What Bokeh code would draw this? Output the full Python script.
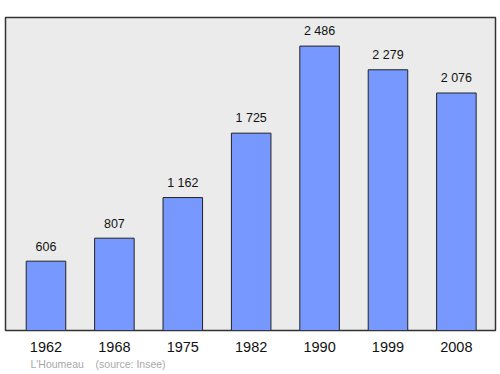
from bokeh.plotting import figure
from bokeh.models import ColumnDataSource, Range1d, FixedTicker, Title
from bokeh.core.properties import value
from bokeh.embed import file_html
from bokeh.resources import INLINE

years = ["1962", "1968", "1975", "1982", "1990", "1999", "2008"]
population = [606, 807, 1162, 1725, 2486, 2279, 2076]
labels = ["606", "807", "1 162", "1 725", "2 486", "2 279", "2 076"]

xs = list(range(len(years)))
src = ColumnDataSource(dict(x=xs, top=population, lab=labels))

FONT = "Liberation Sans"

p = figure(width=500, height=374, output_backend="svg", toolbar_location=None,
           x_range=Range1d(-0.592, 6.572), y_range=Range1d(0, 2736),
           min_border_left=5, min_border_right=5, min_border_top=17, min_border_bottom=44)

p.background_fill_color = "#ebebeb"
p.border_fill_color = "white"
p.outline_line_color = "#333333"
p.outline_line_width = 1.5
p.grid.visible = False
p.yaxis.visible = False

p.vbar(x="x", top="top", bottom=0, width=0.578, source=src,
       fill_color="#7799ff", line_color="#222222", line_width=1)

p.text(x="x", y="top", text="lab", source=src, y_offset=-15,
       text_align="center", text_baseline="middle",
       text_font=value(FONT), text_font_size="12.5px", text_color="#111111")

ax = p.xaxis[0]
ax.ticker = FixedTicker(ticks=xs)
ax.major_label_overrides = {i: y for i, y in enumerate(years)}
ax.axis_line_color = None
ax.major_tick_line_color = None
ax.minor_tick_line_color = None
ax.major_tick_out = 0
ax.major_tick_in = 0
ax.major_label_standoff = 11
ax.major_label_text_font = FONT
ax.major_label_text_font_size = "14.5px"
ax.major_label_text_color = "#111111"

footer = Title(text="L'Houmeau\u00a0\u00a0\u00a0\u00a0(source: Insee)", align="left",
               offset=25, text_font=FONT, text_font_size="10.5px",
               text_font_style="normal", text_color="#a8a8a8", standoff=3)
p.add_layout(footer, "below")

open("out.html", "w").write(file_html(p, INLINE))
